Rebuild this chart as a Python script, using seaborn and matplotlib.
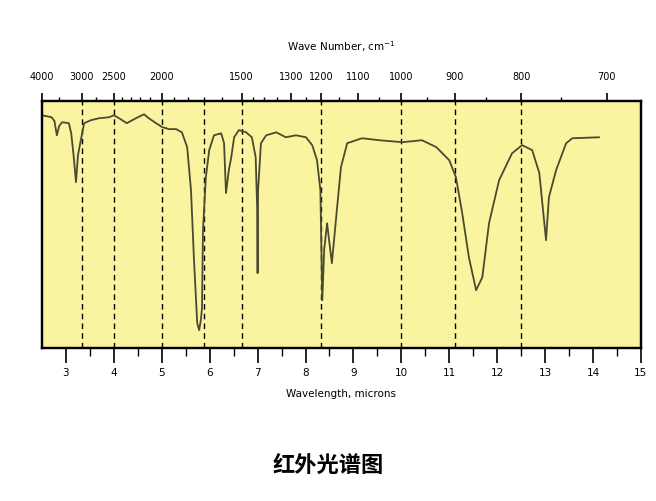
import numpy as np
import pandas as pd
import seaborn as sns
import matplotlib.pyplot as plt

# spectrum: wavelength (microns) and transmittance (%)
wavelength = [2.50, 2.70, 2.76, 2.81, 2.86, 2.92, 3.06, 3.11, 3.16, 3.21,
              3.25, 3.31, 3.38, 3.52, 3.69, 3.90, 4.00, 4.11, 4.27, 4.46,
              4.63, 4.73, 4.88, 5.01, 5.15, 5.30, 5.42, 5.53, 5.61, 5.67,
              5.74, 5.78, 5.82, 5.84, 5.86, 5.92, 5.99, 6.09, 6.24, 6.30,
              6.34, 6.40, 6.45, 6.51, 6.61, 6.76, 6.88, 6.96, 6.99, 7.00,
              7.01, 7.07, 7.18, 7.39, 7.59, 7.80, 8.01, 8.14, 8.24, 8.31,
              8.35, 8.39, 8.45, 8.55, 8.66, 8.74, 8.87, 9.18, 9.54, 10.02,
              10.43, 10.73, 11.00, 11.14, 11.27, 11.41, 11.56, 11.69, 11.83, 12.04,
              12.31, 12.52, 12.73, 12.88, 13.02, 13.08, 13.23, 13.44, 13.57, 14.13]
transmittance = [94.3, 93.5, 92.0, 86.2, 90.0, 91.5, 91.1, 87.0, 78.0, 67.2,
                 78.0, 84.2, 91.1, 92.3, 93.1, 93.5, 94.3, 93.1, 91.1, 93.1,
                 94.7, 93.1, 91.1, 89.5, 88.7, 88.7, 87.4, 81.4, 64.0, 36.8,
                 10.1, 7.3, 12.0, 16.6, 47.8, 69.2, 80.2, 86.2, 87.0, 83.0,
                 62.8, 72.1, 77.3, 85.4, 88.3, 87.4, 85.4, 77.3, 57.1, 30.4,
                 64.0, 83.0, 86.2, 87.4, 85.4, 86.2, 85.4, 82.2, 76.1, 64.0,
                 19.4, 40.0, 50.6, 34.4, 57.1, 73.3, 83.0, 85.0, 84.2, 83.4,
                 84.2, 81.4, 76.1, 69.2, 54.7, 36.8, 23.5, 28.7, 50.6, 68.0,
                 78.9, 82.2, 80.2, 70.9, 43.7, 61.1, 72.1, 83.0, 85.0, 85.4]

micron_ticks = [3, 4, 5, 6, 7, 8, 9, 10, 11, 12, 13, 14, 15]
wn_major = [4000, 3000, 2500, 2000, 1500, 1300, 1200, 1100, 1000, 900, 800, 700]
wn_minor = [3500, 2750, 2400, 2300, 2200, 2100, 1900, 1800, 1700, 1600,
            1450, 1400, 1350, 1250, 1150, 1050, 950, 850, 750]
wn_dashed = [3000, 2500, 2000, 1700, 1500, 1200, 1000, 900, 800]

df = pd.DataFrame({"wavelength": wavelength, "T": transmittance})

sns.set_style("white", {"text.color": "black", "axes.labelcolor": "black",
                        "xtick.color": "black", "axes.edgecolor": "black"})
plt.rcParams["font.family"] = ["DejaVu Sans"]

fig = plt.figure(figsize=(6.56, 5.01), dpi=100, facecolor="white")
ax = fig.add_axes([0.064, 0.305, 0.913, 0.493])
ax.set_facecolor("#faf4a0")

for wn in wn_dashed:
    ax.axvline(10000 / wn, color="black", lw=1.0, ls=(0, (4, 3)), zorder=1)

sns.lineplot(data=df, x="wavelength", y="T", sort=False, estimator=None,
             color="#4a4a30", lw=1.3, ax=ax, zorder=3)

ax.set_xlim(2.5, 15)
ax.set_ylim(0, 100)
ax.set_yticks([])
ax.set_ylabel("")
for s in ax.spines.values():
    s.set_visible(True)
    s.set_color("black")
    s.set_linewidth(1.6)

ax.set_xticks(micron_ticks)
ax.set_xticks(np.arange(3.5, 15, 1.0), minor=True)
ax.tick_params(axis="x", which="major", direction="out", length=11, width=1.2,
               pad=3, labelsize=7.5, bottom=True, colors="black")
ax.tick_params(axis="x", which="minor", direction="out", length=6, width=1.0,
               bottom=True, colors="black")
ax.set_xlabel("Wavelength, microns", fontsize=7.5, labelpad=8, color="black")

top = ax.twiny()
top.set_xlim(2.5, 15)
top.set_xticks([10000 / w for w in wn_major])
top.set_xticklabels([str(w) for w in wn_major])
top.set_xticks([10000 / w for w in wn_minor], minor=True)
top.tick_params(axis="x", which="major", direction="out", length=6, width=1.2,
                pad=8, labelsize=7, top=True, colors="black")
top.tick_params(axis="x", which="minor", direction="out", length=3, width=1.0,
                top=True, colors="black")
top.set_xlabel("Wave Number, cm$^{-1}$", fontsize=7.5, labelpad=15, color="black")
for s in top.spines.values():
    s.set_linewidth(1.6)
    s.set_color("black")

fig.text(0.5, 0.07, "红外光谱图", ha="center", va="center", fontsize=16,
         fontweight="bold", color="black",
         family=["Noto Sans CJK SC", "DejaVu Sans"])

fig.savefig("out.png", dpi=100, facecolor=fig.get_facecolor())
